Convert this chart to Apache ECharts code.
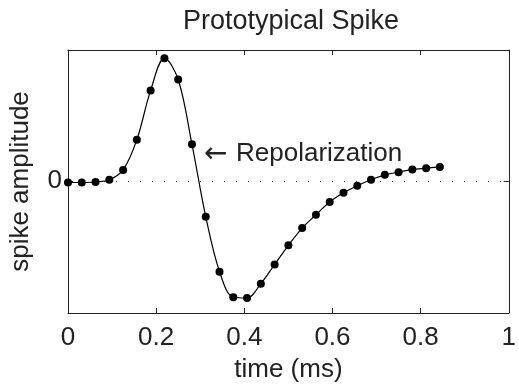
<!DOCTYPE html>
<html>
<head>
<meta charset="utf-8">
<script src="https://cdn.jsdelivr.net/npm/echarts@6/dist/echarts.min.js"></script>
<style>html,body{margin:0;padding:0;background:#fff}#c{width:519px;height:388px}</style>
</head>
<body>
<div id="c"></div>
<script>
var timeMs = [0, 0.03125, 0.0625, 0.09375, 0.125, 0.15625, 0.1875, 0.21875,
  0.25, 0.28125, 0.3125, 0.34375, 0.375, 0.40625, 0.4375, 0.46875,
  0.5, 0.53125, 0.5625, 0.59375, 0.625, 0.65625, 0.6875, 0.71875,
  0.75, 0.78125, 0.8125, 0.84375];
var amplitude = [-0.012, -0.012, -0.008, 0.01, 0.09, 0.336, 0.736, 0.998,
  0.824, 0.298, -0.29, -0.736, -0.944, -0.95, -0.834, -0.678,
  -0.522, -0.382, -0.274, -0.17, -0.096, -0.038, 0.01, 0.05,
  0.072, 0.094, 0.104, 0.114];
var xTicks = [0, 0.2, 0.4, 0.6, 0.8, 1];
var yTicks = [0];
var titleText = 'Prototypical Spike';
var xName = 'time (ms)';
var yName = 'spike amplitude';
var annotationArrow = '\u2190';
var annotation = 'Repolarization';

var FONT = '"Liberation Sans", Arial, Helvetica, sans-serif';
var TXT = '#222';
var chart = echarts.init(document.getElementById('c'), null, {renderer: 'canvas'});
var pts = timeMs.map(function (t, i) { return [t, amplitude[i]]; });

var tickStyle = {show: true, inside: true, length: 5, lineStyle: {color: TXT, width: 1}};
chart.setOption({
  animation: false,
  backgroundColor: '#fff',
  title: {
    text: titleText, left: 286, textAlign: 'center', top: 3,
    textStyle: {fontFamily: FONT, fontSize: 27, fontWeight: 'normal', color: TXT}
  },
  grid: {left: 68, right: 3, top: 50, bottom: 71},
  xAxis: [{
    type: 'value', position: 'bottom', min: 0, max: 1, interval: 0.2,
    name: xName, nameLocation: 'middle', nameGap: 44,
    nameTextStyle: {fontFamily: FONT, fontSize: 26, color: TXT},
    axisLine: {show: true, onZero: false, lineStyle: {color: TXT, width: 1}},
    axisTick: tickStyle,
    axisLabel: {fontFamily: FONT, fontSize: 26, color: TXT, margin: 12, customValues: xTicks},
    splitLine: {show: false}
  }, {
    type: 'value', position: 'top', min: 0, max: 1, interval: 0.2,
    axisLine: {show: true, onZero: false, lineStyle: {color: TXT, width: 1}},
    axisTick: tickStyle,
    axisLabel: {show: false},
    splitLine: {show: false}
  }],
  yAxis: [{
    type: 'value', position: 'left', min: -1.072, max: 1.064,
    name: yName, nameLocation: 'middle', nameGap: 34, nameRotate: 90,
    nameTextStyle: {fontFamily: FONT, fontSize: 26, color: TXT},
    axisLine: {show: true, onZero: false, lineStyle: {color: TXT, width: 1}},
    axisTick: {show: true, inside: true, length: 5, customValues: yTicks, lineStyle: {color: TXT, width: 1}},
    axisLabel: {fontFamily: FONT, fontSize: 26, color: TXT, margin: 6, customValues: yTicks},
    splitLine: {show: false}
  }, {
    type: 'value', position: 'right', min: -1.072, max: 1.064,
    axisLine: {show: true, onZero: false, lineStyle: {color: TXT, width: 1}},
    axisTick: {show: true, inside: true, length: 5, customValues: yTicks, lineStyle: {color: TXT, width: 1}},
    axisLabel: {show: false},
    splitLine: {show: false}
  }],
  series: [{
    type: 'line',
    data: pts,
    smooth: 0.35,
    symbol: 'circle',
    symbolSize: 8,
    showSymbol: true,
    itemStyle: {color: '#000'},
    lineStyle: {color: '#000', width: 1.2},
    markLine: {
      silent: true, symbol: 'none', label: {show: false},
      lineStyle: {color: '#333', width: 1, type: [1, 11]},
      data: [{yAxis: 0}],
      z: 1
    },
    z: 3
  }],
  graphic: [{
    type: 'text', left: 204, top: 141,
    style: {text: annotationArrow, font: '28px "DejaVu Sans"', fill: TXT}
  }, {
    type: 'text', left: 236, top: 141,
    style: {text: annotation, font: '26px ' + FONT, fill: TXT}
  }]
});
</script>
</body>
</html>
